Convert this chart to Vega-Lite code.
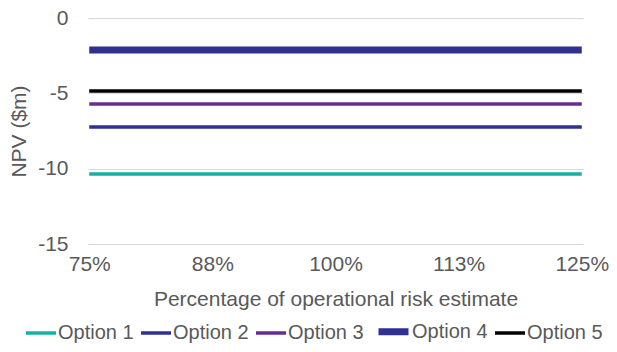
{
  "$schema": "https://vega.github.io/schema/vega-lite/v6.json",
  "autosize": "none",
  "width": 495,
  "height": 226,
  "padding": {"left": 88, "top": 18, "right": 34, "bottom": 108},
  "background": "white",
  "config": {
    "view": {"stroke": null},
    "font": "Liberation Sans",
    "axis": {"labelFont": "Liberation Sans", "titleFont": "Liberation Sans", "labelColor": "#595959", "titleColor": "#595959", "labelFontSize": 21, "titleFontSize": 21, "titleFontWeight": "normal", "gridColor": "#d9d9d9", "gridWidth": 1},
    "legend": {"labelFont": "Liberation Sans", "labelFontSize": 20, "labelColor": "#595959"}
  },
  "data": {"values": [
    {"pct": "75%", "series": "Option 1", "npv": -10.35},
    {"pct": "88%", "series": "Option 1", "npv": -10.35},
    {"pct": "100%", "series": "Option 1", "npv": -10.35},
    {"pct": "113%", "series": "Option 1", "npv": -10.35},
    {"pct": "125%", "series": "Option 1", "npv": -10.35},
    {"pct": "75%", "series": "Option 2", "npv": -7.23},
    {"pct": "88%", "series": "Option 2", "npv": -7.23},
    {"pct": "100%", "series": "Option 2", "npv": -7.23},
    {"pct": "113%", "series": "Option 2", "npv": -7.23},
    {"pct": "125%", "series": "Option 2", "npv": -7.23},
    {"pct": "75%", "series": "Option 3", "npv": -5.71},
    {"pct": "88%", "series": "Option 3", "npv": -5.71},
    {"pct": "100%", "series": "Option 3", "npv": -5.71},
    {"pct": "113%", "series": "Option 3", "npv": -5.71},
    {"pct": "125%", "series": "Option 3", "npv": -5.71},
    {"pct": "75%", "series": "Option 4", "npv": -2.12},
    {"pct": "88%", "series": "Option 4", "npv": -2.12},
    {"pct": "100%", "series": "Option 4", "npv": -2.12},
    {"pct": "113%", "series": "Option 4", "npv": -2.12},
    {"pct": "125%", "series": "Option 4", "npv": -2.12},
    {"pct": "75%", "series": "Option 5", "npv": -4.84},
    {"pct": "88%", "series": "Option 5", "npv": -4.84},
    {"pct": "100%", "series": "Option 5", "npv": -4.84},
    {"pct": "113%", "series": "Option 5", "npv": -4.84},
    {"pct": "125%", "series": "Option 5", "npv": -4.84}
  ]},
  "mark": {"type": "line", "strokeCap": "butt"},
  "encoding": {
    "x": {
      "field": "pct", "type": "ordinal",
      "sort": ["75%", "88%", "100%", "113%", "125%"],
      "scale": {"type": "point", "padding": 0.01},
      "axis": {"title": "Percentage of operational risk estimate", "labelAngle": 0, "domain": false, "ticks": false, "grid": false, "labelPadding": 9, "titlePadding": 14}
    },
    "y": {
      "field": "npv", "type": "quantitative",
      "scale": {"domain": [-15, 0], "nice": false},
      "axis": {"title": "NPV ($m)", "values": [0, -5, -10, -15], "labelExpr": "replace(datum.label, '−', '-')", "domain": false, "ticks": false, "labelPadding": 20, "titlePadding": 8}
    },
    "color": {
      "field": "series", "type": "nominal",
      "scale": {"domain": ["Option 1", "Option 2", "Option 3", "Option 4", "Option 5"], "range": ["#13b2a3", "#2e3192", "#6a2c8c", "#2e3192", "#000000"]},
      "legend": {"title": null, "orient": "none", "direction": "horizontal", "legendX": -64, "legendY": 295, "symbolType": "stroke", "symbolSize": 900, "labelOffset": 0, "columnPadding": 0}
    },
    "strokeWidth": {
      "field": "series", "type": "nominal",
      "scale": {"type": "ordinal", "domain": ["Option 1", "Option 2", "Option 3", "Option 4", "Option 5"], "range": [3.5, 3.5, 3.5, 7, 3.5]},
      "legend": {"title": null, "orient": "none", "direction": "horizontal", "legendX": -64, "legendY": 295, "symbolType": "stroke", "symbolSize": 900, "labelOffset": 0, "columnPadding": 0}
    }
  }
}
